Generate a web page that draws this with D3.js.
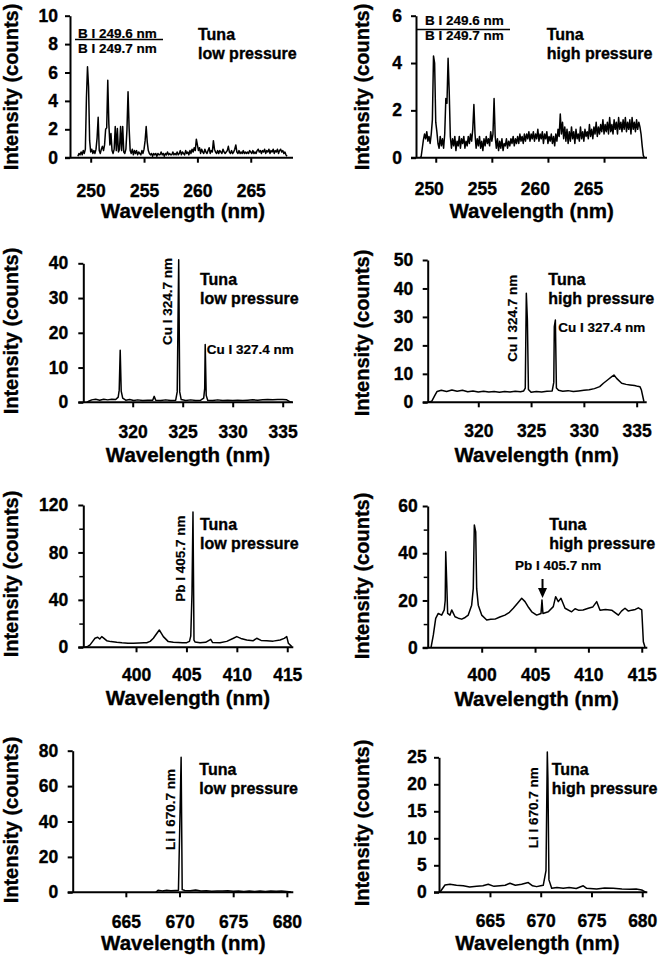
<!DOCTYPE html>
<html><head><meta charset="utf-8">
<script src="https://cdn.jsdelivr.net/npm/d3@7"></script>
<style>
html,body{margin:0;padding:0;background:#fff;}
svg{display:block;}
text{font-family:"Liberation Sans",Arial,Helvetica,sans-serif;font-weight:bold;fill:#000;stroke:#000;stroke-width:0.35px;}
</style></head><body>
<svg id="chart" width="661" height="961"></svg>
<script>
// ---------------- DATA ----------------
// B region, low pressure: intensities sampled every 0.1 nm starting at 248.8 nm
const bLowStart = 248.8, bLowStep = 0.1;
const bLowIntensity = [
0.1,0.3,0.2,0.4,0.2,0.5,0.3,0.6,4.2,6.4, 5.0,1.2,0.4,0.6,0.3,0.5,0.3,0.6,1.4,2.85,
0.5,0.3,0.6,0.8,0.5,0.9,2.0,2.1,5.45,2.4, 0.9,1.7,0.5,0.3,0.6,2.2,0.5,2.05,0.4,0.6,
2.2,0.5,2.2,0.4,0.3,0.6,2.0,4.65,2.1,0.5, 0.3,0.6,0.2,0.5,0.3,0.5,0.2,0.4,0.3,0.2,
0.5,0.3,0.6,1.2,2.2,1.1,0.5,0.3,0.2,0.3, 0.1,0.3,0.2,0.3,0.1,0.3,0.2,0.2,0.4,0.2,
0.3,0.1,0.3,0.2,0.4,0.2,0.3,0.2,0.2,0.4, 0.2,0.3,0.2,0.4,0.2,0.3,0.5,0.2,0.4,0.3,
0.2,0.5,0.3,0.4,0.2,0.5,0.3,0.6,0.4,0.7, 0.5,1.3,0.9,0.5,0.7,0.3,0.6,0.4,0.3,0.6,
0.4,0.3,0.5,0.7,0.3,0.5,0.4,1.2,0.6,0.4, 0.3,0.5,0.3,0.5,0.4,0.3,0.6,0.4,0.3,0.4,
0.5,0.8,0.4,0.3,0.5,0.3,0.4,0.6,0.9,0.4, 0.3,0.5,0.3,0.4,0.3,0.5,0.3,0.4,0.3,0.4,
0.3,0.5,0.4,0.3,0.5,0.3,0.4,0.3,0.5,0.6, 0.4,0.5,0.3,0.5,0.4,0.6,0.3,0.5,0.4,0.6,
0.3,0.5,0.4,0.6,0.3,0.5,0.4,0.6,0.3,0.5, 0.6,0.4,0.5,0.3,0.4,0.2,0.1
];
// B region, high pressure: intensities every 0.1 nm starting at 248.6 nm
const bHighStart = 248.6, bHighStep = 0.1;
const bHighIntensity = [
0,0.05,0.4,0.75,1.0,0.8,1.1,0.7,0.9,0.6, 1.0,1.6,4.3,4.0,1.5,1.1,0.6,0.4,0.9,0.5,
0.8,0.4,1.0,2.5,2.3,4.2,2.8,0.9,0.4,0.8, 0.5,0.9,0.3,0.7,0.5,0.9,0.4,0.8,0.6,0.9,
0.4,0.7,0.5,0.9,0.6,1.0,0.7,1.2,2.25,1.0, 0.4,0.8,0.5,0.9,0.4,0.7,0.3,0.8,0.5,0.9,
0.6,0.8,0.5,1.1,0.7,1.0,2.5,0.9,0.4,0.8, 0.3,0.7,0.4,0.8,0.3,0.6,0.5,0.8,0.4,0.7,
0.5,0.8,0.6,0.9,0.5,0.8,0.6,0.9,0.6,1.0, 0.7,0.9,0.6,1.0,0.7,1.0,0.8,1.1,0.7,1.0,
0.8,1.1,0.7,1.0,0.8,1.2,0.7,1.0,0.8,1.1, 0.6,1.0,0.8,1.1,0.6,0.9,0.7,1.0,0.6,0.9,
0.5,1.0,0.7,1.2,0.9,1.85,1.0,1.5,0.8,1.3, 0.7,1.2,0.6,1.1,0.7,1.3,0.8,1.1,0.6,1.2,
0.8,1.0,0.7,1.3,0.8,1.1,0.7,1.2,0.9,1.1, 0.8,1.4,0.9,1.2,0.8,1.3,1.0,1.5,0.9,1.3,
1.0,1.4,1.1,1.6,1.0,1.4,1.1,1.5,1.0,1.7, 1.1,1.4,1.0,1.6,1.2,1.5,1.0,1.7,1.2,1.5,
1.1,1.6,1.2,1.7,1.1,1.5,1.2,1.6,1.0,1.7, 1.2,1.5,1.1,1.6,1.2,1.5,1.3,1.0,0.5,0.1,0
];
// Cu region [wavelength nm, counts]
const cuLow = [[315.4,0],[315.6,0.3],[315.9,0.7],[316.3,0.9],[316.7,0.6],[317.1,0.9],[317.5,0.7],[317.9,0.9],[318.3,0.8],[318.55,1.5],[318.65,3.5],[318.75,15.0],[318.85,3.2],[319.0,1.2],[319.3,0.6],[319.7,0.8],[320.1,0.5],[320.5,0.7],[321.0,0.5],[321.5,0.6],[322.0,0.6],[322.15,1.7],[322.3,0.6],[322.8,0.5],[323.3,0.7],[323.8,0.5],[324.3,0.6],[324.45,3.0],[324.6,41.0],[324.7,3.0],[324.85,0.8],[325.3,0.5],[325.8,0.7],[326.3,0.5],[326.8,0.6],[327.1,1.2],[327.2,4.0],[327.25,16.6],[327.35,2.0],[327.5,0.6],[328.0,0.5],[328.5,0.7],[329.0,0.5],[329.5,0.6],[330.0,0.5],[330.5,0.6],[331.0,0.5],[331.5,0.6],[332.0,0.7],[332.5,0.6],[333.0,0.7],[333.5,0.8],[334.0,0.7],[334.5,0.8],[335.0,0.8],[335.4,0.7],[335.7,0.2],[335.9,0]];
const cuHigh = [[315.26,0],[315.6,0.4],[315.9,2.5],[316.1,3.8],[316.5,4.2],[317.0,3.8],[317.5,4.3],[318.0,3.9],[318.5,4.2],[319.0,3.7],[319.5,4.0],[320.0,3.6],[320.5,3.9],[321.0,3.6],[321.5,3.8],[322.0,3.5],[322.5,3.8],[323.0,3.6],[323.5,3.9],[324.0,3.7],[324.3,4.0],[324.45,5.0],[324.55,38.3],[324.65,29.0],[324.75,4.5],[325.0,3.5],[325.5,3.8],[326.0,3.6],[326.5,3.9],[327.0,4.0],[327.15,7.0],[327.2,26.6],[327.3,28.9],[327.4,5.0],[327.6,4.2],[328.0,3.9],[328.5,4.1],[329.0,3.8],[329.5,4.0],[330.0,4.2],[330.5,4.4],[331.0,4.8],[331.5,5.5],[331.85,6.7],[332.3,8.0],[332.64,9.0],[332.85,9.6],[333.1,8.4],[333.58,6.7],[334.0,6.3],[334.37,6.1],[334.8,5.9],[335.1,5.6],[335.31,5.5],[335.45,4.3],[335.69,0.2]];
// Pb region
const pbLow = [[394.94,0],[395.2,0.8],[395.44,2],[395.7,5],[395.93,7.6],[396.2,8.5],[396.4,7.0],[396.6,9],[396.76,8],[397.09,5.6],[397.5,4.8],[398.09,4.2],[398.6,3.8],[399.2,3.5],[399.74,3.4],[400.3,3.6],[400.8,3.8],[401.06,3.9],[401.4,5],[401.72,7.6],[402.0,11],[402.31,14.6],[402.5,12],[402.71,9],[403.2,4.8],[403.7,4.2],[404.2,4.0],[404.6,3.9],[405.03,3.9],[405.3,5],[405.43,9.5],[405.55,45],[405.65,114],[405.75,6],[405.85,4.5],[406.35,3.9],[406.9,4.2],[407.41,6.7],[407.6,4.0],[408.33,3.9],[409.0,5.0],[409.66,7.6],[409.99,9],[410.4,7.5],[410.98,6.2],[411.6,5.5],[411.97,7.6],[412.4,5.8],[412.96,5.6],[413.6,5.2],[414.29,6.2],[414.7,7.5],[414.95,9],[415.11,3.4],[415.45,0.6]];
const pbHigh = [[395.25,0],[395.47,5.4],[395.69,12.4],[395.93,14.5],[396.25,13.8],[396.49,16],[396.58,20],[396.63,40.6],[396.72,28],[396.81,14.5],[397.03,13.8],[397.19,16],[397.5,13.1],[397.8,12.5],[398.13,12.1],[398.45,12.8],[398.74,13.8],[399.06,18],[399.21,25],[399.31,52],[399.44,49],[399.53,25],[399.68,18],[400.0,13.8],[400.47,11.7],[400.85,12],[401.25,12.1],[401.7,13],[402.18,13.8],[402.6,15],[402.96,16.7],[403.4,19],[403.75,20.9],[404.06,19.5],[404.4,17],[404.69,15.2],[405.15,13.8],[405.56,14.5],[405.65,20.2],[405.74,14.5],[406.24,15.2],[406.71,17.4],[406.93,21.6],[407.18,19.5],[407.43,20.9],[407.81,16.7],[408.43,15.2],[408.75,16.5],[409.06,15.9],[409.5,16],[409.99,16.7],[410.4,17.2],[410.78,19.5],[411.09,15.9],[411.6,16.2],[412.18,15.9],[412.81,13.8],[413.1,15.5],[413.43,16.7],[413.75,15.5],[414.06,15.9],[414.4,16.2],[414.68,16.9],[415.0,16],[415.15,2.5],[415.3,0.3]];
// Li region
const liLow = [[667.8,0],[668.0,1.2],[668.4,0.8],[668.8,1.1],[669.2,0.9],[669.6,1.0],[669.9,1.1],[670.05,45],[670.15,76.3],[670.25,1.5],[670.5,1.0],[671.0,0.9],[671.5,1.3],[672.0,0.7],[672.5,0.9],[673.0,0.6],[673.5,0.8],[674.0,0.7],[674.5,0.9],[675.0,0.6],[675.5,0.7],[676.0,0.5],[676.5,0.8],[677.0,0.5],[677.5,0.7],[678.0,0.5],[678.5,0.8],[679.0,0.6],[679.5,0.7],[680.0,0.4],[680.4,0.2]];
const liHigh = [[660.07,0],[660.57,1.36],[661.06,1.5],[661.7,1.3],[662.37,1.2],[663.0,1.0],[663.69,1.1],[664.3,1.2],[664.83,1.5],[665.4,1.1],[665.99,1.2],[666.5,1.3],[666.97,1.67],[667.5,1.3],[668.12,1.5],[668.77,1.8],[669.2,1.2],[669.6,1.05],[670.0,1.2],[670.25,1.3],[670.52,4.0],[670.65,26],[670.71,21],[670.81,2.3],[671.08,0.74],[671.6,0.9],[672.22,0.74],[672.8,0.9],[673.5,0.7],[674.19,1.2],[674.53,0.74],[675.51,0.6],[676.3,0.8],[677.15,0.74],[678.0,0.6],[678.79,0.55],[679.4,0.6],[679.95,0.43],[680.37,0]];

// Tick values
const xTicksB = [250,255,260,265];
const xTicksCu = [320,325,330,335];
const xTicksPb = [400,405,410,415];
const xTicksLi = [665,670,675,680];
const yTicksBLow = [0,2,4,6,8,10];
const yTicksBHigh = [0,2,4,6];
const yTicksCuLow = [0,10,20,30,40];
const yTicksCuHigh = [0,10,20,30,40,50];
const yTicksPbLow = [0,40,80,120];
const yMinorPbLow = [20,60,100];
const yTicksPbHigh = [0,20,40,60];
const yMinorPbHigh = [10,30,50];
const yTicksLiLow = [0,20,40,60,80];
const yTicksLiHigh = [0,5,10,15,20,25];

// Text
const xTitle = "Wavelength (nm)";
const yTitle = "Intensity (counts)";
const sampleLabel = "Tuna";
const lowLabel = "low pressure";
const highLabel = "high pressure";

// Build sampled series
const bLow = bLowIntensity.map((v,i)=>[bLowStart + i*bLowStep, v]);
const bHigh = bHighIntensity.map((v,i)=>[bHighStart + i*bHighStep, v]);

// ---------------- PANELS (layout) ----------------
// lblShift: optional horizontal shift of x tick labels (px) relative to ticks, as in the source figure
const panels = [
 {data:bLow, xd:[248.06,268.96], xr:[70,293], yd:[0,10], yr:[157.7,15.7], xt:xTicksB, yt:yTicksBLow, ym:[],
  xlab:39, ygap:12, xtc:183, xtb:218.3, ytx:18.2, ytc:87, cond:lowLabel, tx:198, ty:40},
 {data:bHigh, xd:[248.24,268.83], xr:[416,647], yd:[0,6], yr:[157.7,15.7], xt:xTicksB, yt:yTicksBHigh, ym:[],
  xlab:37.5, ygap:14, xtc:531.7, xtb:218.3, ytx:369.3, ytc:87, cond:highLabel, tx:546.7, ty:40,
  lblShift:[-7,-10,-13,-16]},
 {data:cuLow, xd:[315.06,336.03], xr:[83.3,293], yd:[0,40], yr:[402.3,263.3], xt:xTicksCu, yt:yTicksCuLow, ym:[],
  xlab:35.7, ygap:15, xtc:188, xtb:461.7, ytx:18.2, ytc:331, cond:lowLabel, tx:200, ty:285},
 {data:cuHigh, xd:[315.21,335.95], xr:[427.7,646.7], yd:[0,50], yr:[402.3,260], xt:xTicksCu, yt:yTicksCuHigh, ym:[],
  xlab:34.6, ygap:14.4, xtc:536.7, xtb:461.7, ytx:369.3, ytc:333, cond:highLabel, tx:548.3, ty:285},
 {data:pbLow, xd:[394.77,415.6], xr:[83.3,293.3], yd:[0,120], yr:[647.3,505], xt:xTicksPb, yt:yTicksPbLow, ym:yMinorPbLow,
  xlab:34, ygap:15, xtc:188, xtb:705, ytx:18.2, ytc:574, cond:lowLabel, tx:200, ty:530},
 {data:pbHigh, xd:[394.94,415.52], xr:[427.7,647.3], yd:[0,60], yr:[647.7,506], xt:xTicksPb, yt:yTicksPbHigh, ym:yMinorPbHigh,
  xlab:33.8, ygap:10, xtc:536.7, xtb:705.5, ytx:369.3, ytc:576, cond:highLabel, tx:549.3, ty:530},
 {data:liLow, xd:[660.05,680.6], xr:[72.7,293.3], yd:[0,80], yr:[892.3,750.7], xt:xTicksLi, yt:yTicksLiLow, ym:[],
  xlab:35.4, ygap:14.4, xtc:183.3, xtb:950, ytx:18.2, ytc:820, cond:lowLabel, tx:199.3, ty:775},
 {data:liHigh, xd:[659.98,680.5], xr:[439,647.3], yd:[0,25], yr:[892.3,757.3], xt:xTicksLi, yt:yTicksLiHigh, ym:[],
  xlab:34.4, ygap:12.3, xtc:537.5, xtb:950, ytx:369.3, ytc:823, cond:highLabel, tx:551.7, ty:775}
];

const svg = d3.select("#chart");
const AX_W = 2;
const scales = [];
const FONT = '"Liberation Sans",Arial,sans-serif';

panels.forEach(p => {
  const x = d3.scaleLinear().domain(p.xd).range(p.xr);
  const y = d3.scaleLinear().domain(p.yd).range(p.yr);
  scales.push({x,y});
  const bottom = p.yr[0], left = p.xr[0];

  // spectrum
  svg.append("path").datum(p.data)
    .attr("fill","none").attr("stroke","#000").attr("stroke-width",1.5).attr("stroke-linejoin","round")
    .attr("d", d3.line().x(d=>x(d[0])).y(d=>y(d[1])));

  // x axis
  const gx = svg.append("g").attr("transform",`translate(0,${bottom})`)
    .call(d3.axisBottom(x).tickValues(p.xt).tickSize(5).tickSizeOuter(0).tickFormat(d3.format("d")));
  gx.select(".domain").attr("stroke-width",AX_W).attr("d",`M${left-5},0H${p.xr[1]}`);
  gx.selectAll(".tick line").attr("stroke-width",AX_W);
  gx.selectAll(".tick text").attr("dy",0).attr("y",p.xlab)
    .attr("x",(d,i)=> p.lblShift ? p.lblShift[i] : 0)
    .style("font-size","17.5px").style("font-family",FONT).style("font-weight","bold");

  // y axis
  const gy = svg.append("g").attr("transform",`translate(${left},0)`)
    .call(d3.axisLeft(y).tickValues(p.yt).tickSize(5).tickSizeOuter(0).tickPadding(p.ygap-5).tickFormat(d3.format("d")));
  gy.select(".domain").attr("stroke-width",AX_W);
  gy.selectAll(".tick line").attr("stroke-width",AX_W);
  gy.selectAll(".tick text")
    .style("font-size","17.5px").style("font-family",FONT).style("font-weight","bold");
  if (p.ym.length) {
    const gm = svg.append("g").attr("transform",`translate(${left},0)`)
      .call(d3.axisLeft(y).tickValues(p.ym).tickSize(4).tickSizeOuter(0).tickFormat(""));
    gm.select(".domain").remove();
    gm.selectAll(".tick line").attr("stroke-width",1.5);
  }

  // axis titles
  svg.append("text").attr("x",p.xtc).attr("y",p.xtb).attr("text-anchor","middle")
    .style("font-size","20.5px").text(xTitle);
  svg.append("text").attr("transform",`translate(${p.ytx},${p.ytc}) rotate(-90)`).attr("text-anchor","middle")
    .style("font-size","20px").text(yTitle);

  // sample label
  svg.append("text").attr("x",p.tx).attr("y",p.ty).style("font-size","16px").text(sampleLabel);
  svg.append("text").attr("x",p.tx).attr("y",p.ty+18.5).style("font-size","16px").text(p.cond);
});

// ---------------- ANNOTATIONS ----------------
const ann = (x,y,t,rot) => {
  const e = svg.append("text").style("font-size","13.5px").style("stroke-width","0.2px").text(t);
  if (rot) e.attr("transform",`translate(${x},${y}) rotate(-90)`);
  else e.attr("x",x).attr("y",y);
  return e;
};
// B panels
ann(78,37.5,"B I 249.6 nm"); ann(78,53,"B I 249.7 nm");
svg.append("line").attr("x1",75).attr("x2",163).attr("y1",39.5).attr("y2",39.5).attr("stroke","#000").attr("stroke-width",1.5);
ann(425,25,"B I 249.6 nm"); ann(425,40,"B I 249.7 nm");
svg.append("line").attr("x1",416).attr("x2",510).attr("y1",29.5).attr("y2",29.5).attr("stroke","#000").attr("stroke-width",1.5);
// Cu panels
ann(171.5,345,"Cu I 324.7 nm",true); ann(206.7,354,"Cu I 327.4 nm");
ann(516.5,361.7,"Cu I 324.7 nm",true); ann(558.3,331.7,"Cu I 327.4 nm");
// Pb panels
ann(185,601.7,"Pb I 405.7 nm",true);
ann(515,570,"Pb I 405.7 nm");
{
  const ax = scales[5].x(405.7);
  svg.append("line").attr("x1",ax).attr("x2",ax).attr("y1",579).attr("y2",589).attr("stroke","#000").attr("stroke-width",2);
  svg.append("path").attr("d",`M${ax-4.5},588L${ax+4.5},588L${ax},598Z`).attr("fill","#000");
}
// Li panels
ann(175,850,"Li I 670.7 nm",true);
ann(538.3,848.3,"Li I 670.7 nm",true);
</script>
</body></html>
